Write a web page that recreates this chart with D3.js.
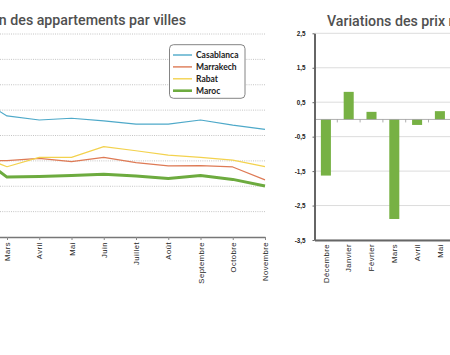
<!DOCTYPE html>
<html><head><meta charset="utf-8">
<script src="https://cdn.jsdelivr.net/npm/d3@7"></script>
<style>body{margin:0;background:#fff} svg{display:block}</style>
</head><body><svg id="c" width="450" height="355"></svg>
<script>
// ---- Left chart data ----
const months = ["Février","Mars","Avril","Mai","Juin","Juillet","Août","Septembre","Octobre","Novembre"];
const casablanca = [11550,10770,10610,10680,10580,10450,10450,10610,10410,10240];
const marrakech  = [9010,9010,9100,8970,9140,8930,8800,8810,8760,8250];
const rabat      = [9260,8770,9140,9140,9560,9400,9230,9140,9030,8770];
const maroc      = [9330,8360,8380,8420,8470,8400,8310,8420,8270,8010];
const seriesNames = ["Casablanca","Marrakech","Rabat","Maroc"];
const leftTicks = [7000,8000,9000,10000,11000,12000,13000,14000];

// ---- Right chart data ----
const varMonths = ["Décembre","Janvier","Février","Mars","Avril","Mai"];
const variations = [-1.63,0.80,0.22,-2.89,-0.16,0.24];
const varTicks = [2.5,1.5,0.5,-0.5,-1.5,-2.5,-3.5];
const varTickLabels = ["2,5","1,5","0,5","-0,5","-1,5","-2,5","-3,5"];

const svg = d3.select("#c");
const colors = {Casablanca:"#4ea9c9", Marrakech:"#de7a55", Rabat:"#f3d24e", Maroc:"#6dab3f"};
const widths = {Casablanca:1.2, Marrakech:1.2, Rabat:1.2, Maroc:3};
const dataBy = {Casablanca:casablanca, Marrakech:marrakech, Rabat:rabat, Maroc:maroc};

// ===== Left chart =====
const x = d3.scalePoint().domain(months).range([-25.25, 265]);
const y = d3.scaleLinear().domain([6000,14000]).range([237,34]);
const L = svg.append("g");

L.append("text").attr("x",186).attr("y",25).attr("text-anchor","end")
  .style("font-family","Roboto").style("font-weight","500").style("font-size","14.2px")
  .attr("fill","#505050").text("Prix moyen des appartements par villes");

L.append("g").selectAll("line").data(leftTicks).join("line")
  .attr("x1",0).attr("x2",266).attr("y1",d=>y(d)).attr("y2",d=>y(d))
  .attr("stroke","#c4c4c4").attr("stroke-width",1).attr("stroke-dasharray","1,1.2");

const xa = L.append("g").attr("transform",`translate(0,${y(6000)})`)
  .call(d3.axisBottom(x).tickSize(3).tickSizeOuter(0));
xa.select(".domain").attr("stroke","#777").attr("stroke-width",1.5);
xa.selectAll(".tick line").attr("stroke","#888");
xa.selectAll(".tick").filter(d=>d==="Février").remove();
xa.selectAll("text").attr("transform","rotate(-90)").attr("x",-5).attr("y",0).attr("dy","0.35em")
  .attr("text-anchor","end").style("font-family","Liberation Sans").style("font-size","7.6px")
  .style("letter-spacing","0.5px").attr("fill","#1e1e1e");

const line = d3.line().x((d,i)=>x(months[i])).y(d=>y(d));
seriesNames.forEach(n=>{
  L.append("path").datum(dataBy[n]).attr("d",line).attr("fill","none")
    .attr("stroke",colors[n]).attr("stroke-width",widths[n]).attr("stroke-linejoin","round");
});

// legend
const lg = L.append("g");
lg.append("rect").attr("x",169.5).attr("y",44.7).attr("width",75.5).attr("height",53.6)
  .attr("rx",4).attr("fill","#fff").attr("stroke","#777").attr("stroke-width",0.9);
seriesNames.forEach((n,i)=>{
  const yy = 55 + i*11.9;
  lg.append("line").attr("x1",173).attr("x2",192).attr("y1",yy).attr("y2",yy)
    .attr("stroke",colors[n]).attr("stroke-width",n==="Maroc"?2.6:1.4);
  lg.append("text").attr("x",196).attr("y",yy).attr("dy","0.35em")
    .style("font-family","Lato").style("font-weight","700").style("font-size","8.5px")
    .attr("fill","#222").text(n);
});

// ===== Right chart =====
const xb = d3.scaleBand().domain(varMonths).range([314.5,451.3]).paddingInner(0.56).paddingOuter(0.28);
const yb = d3.scaleLinear().domain([-3.5,2.5]).range([240,33.3]);
const R = svg.append("g");

R.append("text").attr("x",327).attr("y",26)
  .style("font-family","Roboto").style("font-weight","500").style("font-size","14.2px")
  .attr("fill","#505050").text("Variations des prix mensuelles");

R.append("g").selectAll("line").data(varTicks).join("line")
  .attr("x1",314.5).attr("x2",452).attr("y1",d=>yb(d)).attr("y2",d=>yb(d))
  .attr("stroke","#dcdcdc").attr("stroke-width",1);

R.append("g").selectAll("rect").data(variations).join("rect")
  .attr("x",(d,i)=>xb(varMonths[i])).attr("width",xb.bandwidth())
  .attr("y",d=>yb(Math.max(0,d))).attr("height",d=>Math.abs(yb(d)-yb(0)))
  .attr("fill","#77b144");

// zero line with boundary ticks
R.append("line").attr("x1",314.5).attr("x2",452).attr("y1",yb(0)).attr("y2",yb(0))
  .attr("stroke","#9a9a9a").attr("stroke-width",0.8);
R.append("g").selectAll("line").data(varMonths.slice(1)).join("line")
  .attr("x1",d=>xb(d)-xb.step()*0.28).attr("x2",d=>xb(d)-xb.step()*0.28)
  .attr("y1",yb(0)).attr("y2",yb(0)+3).attr("stroke","#9a9a9a").attr("stroke-width",0.8);

const ya = R.append("g").attr("transform","translate(314.5,0)")
  .call(d3.axisLeft(yb).tickValues(varTicks).tickFormat((d,i)=>varTickLabels[i]).tickSize(2).tickSizeOuter(0));
ya.select(".domain").attr("stroke","#666").attr("stroke-width",2);
ya.selectAll(".tick line").attr("stroke","#666");
ya.selectAll("text").attr("x",-9).style("font-family","Liberation Sans").style("font-weight","700")
  .style("font-size","6.3px").attr("fill","#222");

const xba = R.append("g").attr("transform",`translate(0,${yb(-3.5)})`)
  .call(d3.axisBottom(xb).tickSize(0).tickSizeOuter(0));
xba.select(".domain").attr("stroke","#666").attr("stroke-width",2);
xba.selectAll("text").attr("transform","rotate(-90)").attr("x",-4).attr("y",0).attr("dy","0.35em")
  .attr("text-anchor","end").style("font-family","Liberation Sans").style("font-size","7.6px")
  .style("letter-spacing","0.5px").attr("fill","#1e1e1e");
</script></body></html>
